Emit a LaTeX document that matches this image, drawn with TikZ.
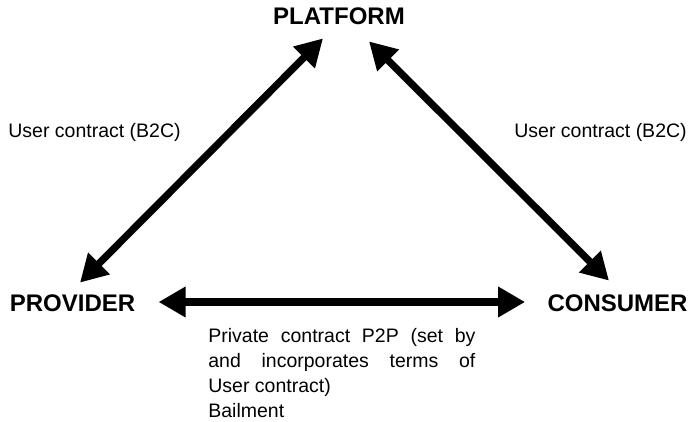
\documentclass[tikz,border=0pt]{standalone}
\usepackage{fontspec}
\setmainfont{Liberation Sans}
\usepackage{tikz}
\usetikzlibrary{arrows.meta, calc, positioning}

\begin{document}
\begin{tikzpicture}[>={Triangle[length=13.5pt,width=14.5pt]}, x=0.5pt, y=-0.5pt,
        party/.style={font=\bfseries\fontsize{12}{14}\selectfont, inner sep=0pt},
        terms/.style={font=\fontsize{9.75}{12.5}\selectfont, inner sep=0pt},
        link/.style={<->, line width=3.6pt}]
    \useasboundingbox (0,0) rectangle (697,422);

    % the three parties
    \node[party] (platform) at (339,16.5) {PLATFORM};
    \node[party] (provider) at (72.5,303.5) {PROVIDER};
    \node[party] (consumer) at (617.5,303.5) {CONSUMER};

    % contracts
    \draw[link] ($(provider.north)+(7.5,-12)$) -- ($(platform.south)+(-16,13)$);
    \draw[link] ($(platform.south)+(30,16)$) -- ($(consumer.north)+(-8.5,-14)$);
    \draw[link] ($(provider.east)+(23,-1.5)$) -- ($(consumer.west)+(-22,-1.5)$);

    \node[terms, anchor=base west] (b2cleft) at (8,138) {User contract (B2C)};
    \node[terms, anchor=base west] (b2cright) at (514,138) {User contract (B2C)};
    \node[terms, anchor=north west, text width=133.5pt, align=justify] (p2p) at (208,327.8)
        {Private contract P2P (set by\linebreak and incorporates terms of\linebreak User contract)\\Bailment};
\end{tikzpicture}
\end{document}
